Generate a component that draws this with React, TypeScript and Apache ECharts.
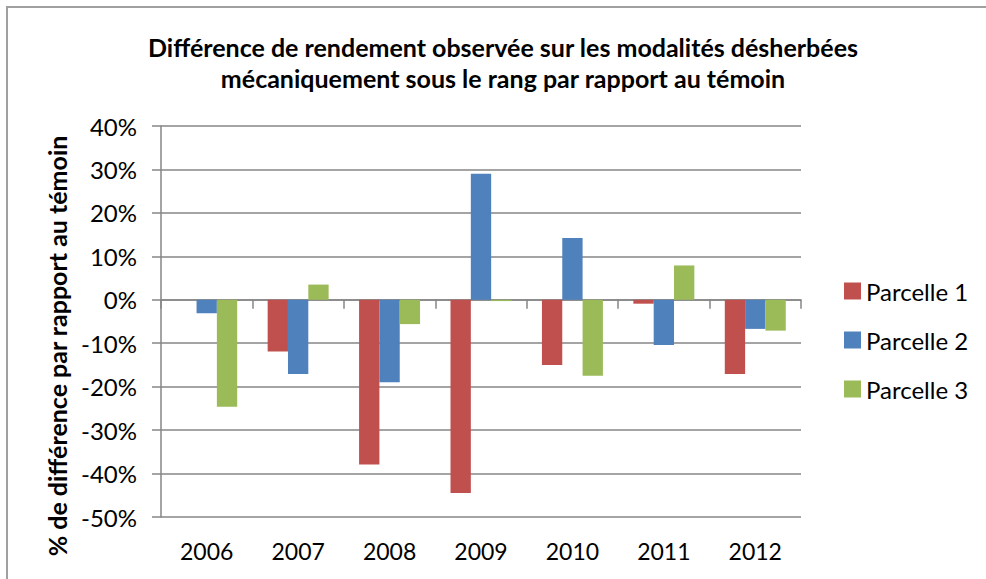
import React, { useEffect, useRef } from "react";
import * as echarts from "echarts";

const years = ["2006", "2007", "2008", "2009", "2010", "2011", "2012"];
const parcelle1 = [0, -11.9, -37.9, -44.5, -15.0, -0.9, -17.1];
const parcelle2 = [-3.1, -17.1, -19.0, 29.0, 14.2, -10.4, -6.7];
const parcelle3 = [-24.6, 3.5, -5.6, -0.3, -17.5, 7.9, -7.1];
const seriesNames = ["Parcelle 1", "Parcelle 2", "Parcelle 3"];
const titleLines = [
  "Différence de rendement observée sur les modalités désherbées",
  "mécaniquement sous le rang par rapport au témoin",
];
const yAxisTitle = "% de différence par rapport au témoin";

const FONT = "Lato, 'Open Sans', sans-serif";
const GRAY = "#868686";

export default function App() {
  const ref = useRef<HTMLDivElement>(null);
  useEffect(() => {
    if (!ref.current) return;
    const chart = echarts.init(ref.current, undefined, { renderer: "svg" });
    const colors = ["#C0504D", "#4F81BD", "#9BBB59"];
    const values = [parcelle1, parcelle2, parcelle3];
    chart.setOption({
      animation: false,
      backgroundColor: "#ffffff",
      textStyle: { fontFamily: FONT },
      grid: { left: 161, right: 185, top: 126, bottom: 62, containLabel: false },
      legend: {
        orient: "vertical",
        left: 844,
        top: 279,
        icon: "rect",
        itemWidth: 17,
        itemHeight: 17,
        itemGap: 25,
        padding: 0,
        data: seriesNames,
        textStyle: { fontFamily: FONT, fontSize: 24, color: "#000" },
      },
      xAxis: [
        {
          type: "category",
          data: years,
          axisLine: { onZero: true, lineStyle: { color: GRAY, width: 1.5 } },
          axisTick: { show: true, length: 9, lineStyle: { color: GRAY, width: 1.5 } },
          axisLabel: { show: false },
        },
        {
          type: "category",
          data: years,
          position: "bottom",
          axisLine: { show: false, onZero: false },
          axisTick: { show: false },
          axisLabel: {
            show: true,
            margin: 22,
            fontFamily: FONT,
            fontSize: 23,
            color: "#000",
          },
        },
      ],
      yAxis: {
        type: "value",
        min: -50,
        max: 40,
        interval: 10,
        axisLine: { show: true, lineStyle: { color: GRAY, width: 1.5 } },
        axisTick: { show: true, length: 9, lineStyle: { color: GRAY, width: 1.5 } },
        splitLine: { show: true, lineStyle: { color: GRAY, width: 1.5 } },
        axisLabel: {
          formatter: "{value}%",
          margin: 24,
          fontFamily: FONT,
          fontSize: 24,
          color: "#000",
        },
      },
      series: seriesNames.map((name, i) => ({
        name,
        type: "bar",
        xAxisIndex: 0,
        data: values[i],
        barGap: "0%",
        barCategoryGap: "33.3%",
        itemStyle: { color: colors[i] },
      })),
      graphic: [
        {
          type: "rect",
          shape: { x: 7, y: 7, width: 1000, height: 600 },
          style: { fill: "none", stroke: "#a0a0a0", lineWidth: 2 },
          silent: true,
        },
        {
          type: "text",
          x: 503,
          y: 47,
          style: {
            text: titleLines[0],
            fontFamily: FONT,
            fontWeight: "bold",
            fontSize: 25,
            fill: "#000",
            align: "center",
            verticalAlign: "middle",
          },
        },
        {
          type: "text",
          x: 503,
          y: 78,
          style: {
            text: titleLines[1],
            fontFamily: FONT,
            fontWeight: "bold",
            fontSize: 25,
            fill: "#000",
            align: "center",
            verticalAlign: "middle",
          },
        },
        {
          type: "text",
          x: 57,
          y: 346,
          rotation: Math.PI / 2,
          style: {
            text: yAxisTitle,
            fontFamily: FONT,
            fontWeight: "bold",
            fontSize: 25,
            fill: "#000",
            align: "center",
            verticalAlign: "middle",
          },
        },
      ],
    });
    return () => chart.dispose();
  }, []);
  return (
    <div
      ref={ref}
      style={{ position: "fixed", left: 0, top: 0, width: 986, height: 579 }}
    />
  );
}
